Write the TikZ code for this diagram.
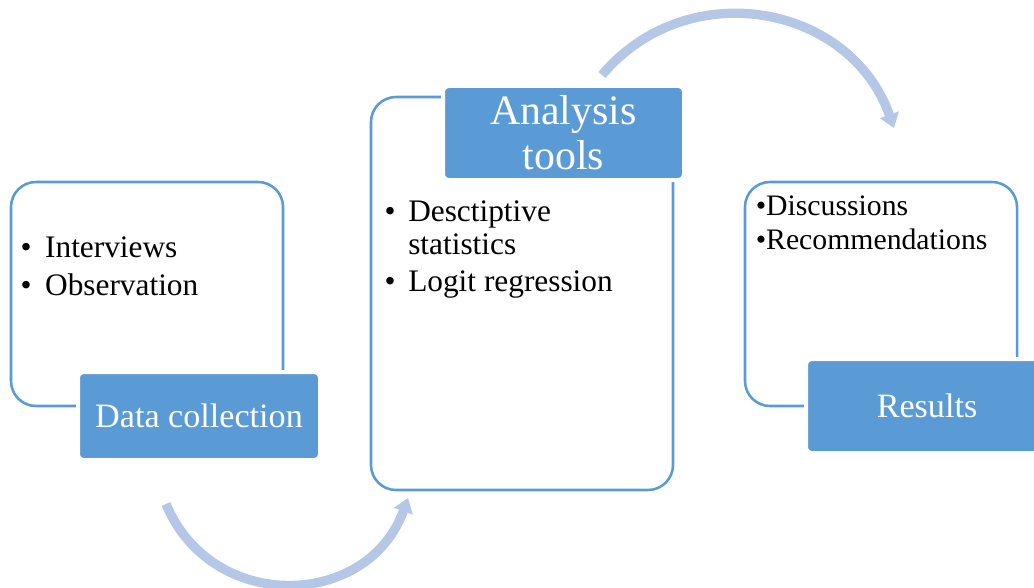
\documentclass[tikz,border=0pt]{standalone}
\usepackage{fontspec}
\setmainfont{Liberation Serif}
\usetikzlibrary{arrows.meta}
\definecolor{accent}{HTML}{5B9BD5}
\definecolor{arrowblue}{HTML}{B4C7E7}
\begin{document}
\begin{tikzpicture}[x=0.75pt,y=-0.75pt,
  outline/.style={draw=accent, line width=1.9pt, rounded corners=18.75pt, inner sep=0pt},
  stagelabel/.style={fill=accent, draw=white, line width=3pt, rounded corners=4.5pt, text=white, inner sep=0pt, align=center},
  item/.style={anchor=base west, inner sep=0pt, font=\fontsize{23.5pt}{28pt}\selectfont},
  smallitem/.style={item, font=\fontsize{22.3pt}{26pt}\selectfont},
  flow/.style={draw=arrowblue, line width=7pt, -{Triangle[width=14.5pt,length=10.5pt]}}
]
\useasboundingbox (0,0) rectangle (1034,588);

% outline boxes
\node[outline, minimum width=204pt, minimum height=168pt] (box1) at (147,294) {};
\node[outline, minimum width=226.5pt, minimum height=294.75pt] (box2) at (522,293.5) {};
\node[outline, minimum width=204pt, minimum height=168pt] (box3) at (881,294) {};

% stage labels
\node[stagelabel, minimum width=181.5pt, minimum height=66pt, font=\fontsize{25.6pt}{30pt}\selectfont] (lab1) at (199,416) {Data collection};
\node[stagelabel, minimum width=180.75pt, minimum height=70.5pt, font=\fontsize{31.4pt}{33.75pt}\selectfont] (lab2) at (563.5,133) {Analysis\\tools};
\node[stagelabel, minimum width=181.5pt, minimum height=70.5pt, font=\fontsize{25.6pt}{30pt}\selectfont] (lab3) at (927,406) {Results};

% items
\node[item] (i1a) at (20.4,257) {\makebox[18.4pt][l]{\textbullet}Interviews};
\node[item] (i1b) at (20.4,295) {\makebox[18.4pt][l]{\textbullet}Observation};

\node[item] (i2a) at (384.4,221.7) {\makebox[17.7pt][l]{\textbullet}Desctiptive};
\node[item] (i2b) at (408,254) {statistics};
\node[item] (i2c) at (384.4,291.7) {\makebox[17.7pt][l]{\textbullet}Logit regression};

\node[smallitem] (i3a) at (755.5,215) {\textbullet Discussions};
\node[smallitem] (i3b) at (755.5,249) {\textbullet Recommendations};

% flow arrows
\coordinate (a1s) at (166,504);
\coordinate (a1e) at (408,498);
\coordinate (a2s) at (602,75);
\coordinate (a2e) at (894,128);
\draw[flow] (a1s) .. controls (211.4,613.6) and (368,609.6) .. (a1e);
\draw[flow] (a2s) .. controls (687,-26) and (850,3.4) .. (a2e);
\end{tikzpicture}
\end{document}
